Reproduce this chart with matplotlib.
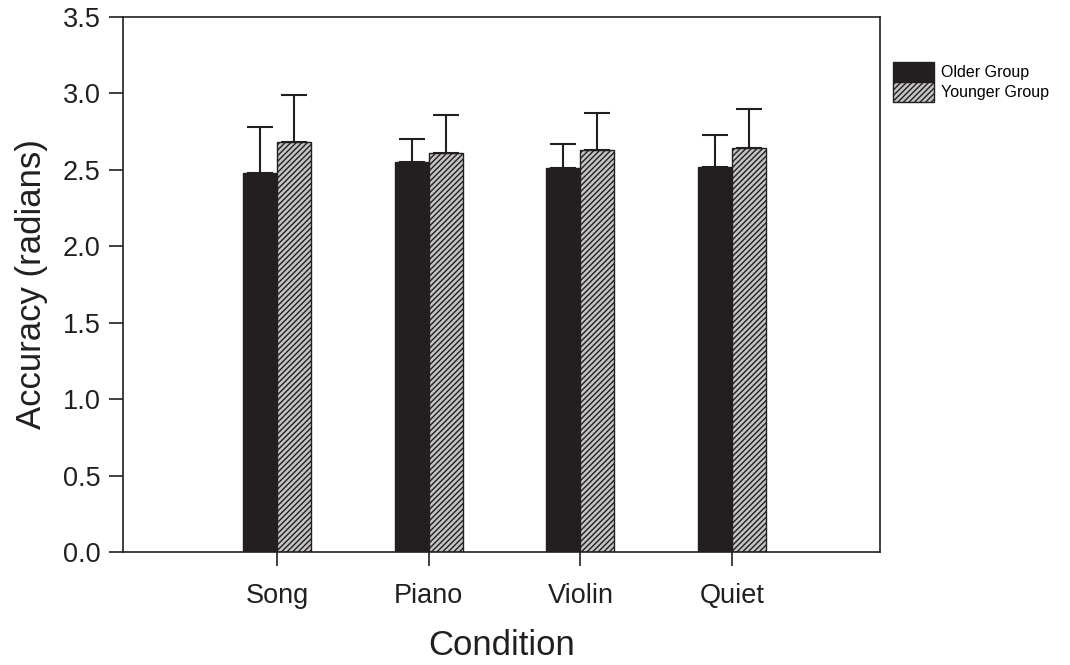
import matplotlib
matplotlib.use("Agg")
from matplotlib import pyplot as plt
import numpy as np

plt.rcParams['font.family'] = ['Liberation Sans', 'DejaVu Sans']
plt.rcParams['hatch.color'] = '#231f20'
plt.rcParams['hatch.linewidth'] = 1.0

conditions = ["Song", "Piano", "Violin", "Quiet"]
older_mean = [2.48, 2.55, 2.51, 2.52]
older_err = [0.30, 0.15, 0.16, 0.21]
younger_mean = [2.68, 2.61, 2.63, 2.645]
younger_err = [0.31, 0.25, 0.24, 0.25]

dark = '#231f20'
x = np.arange(1, len(conditions) + 1)
w = 0.224

fig = plt.figure(figsize=(10.7, 6.65), dpi=100)
ax = fig.add_axes([123/1070, 1 - 552/665, 757/1070, 535/665])

ax.bar(x, older_mean, width=-w, align='edge', color=dark, edgecolor=dark,
       linewidth=1, label='Older Group',
       yerr=[np.zeros(4), older_err],
       error_kw=dict(ecolor=dark, elinewidth=1.5, capsize=9.5, capthick=1.5))
ax.bar(x, younger_mean, width=w, align='edge', color='#c4c4c4', edgecolor=dark,
       linewidth=1, hatch='//////', label='Younger Group',
       yerr=[np.zeros(4), younger_err],
       error_kw=dict(ecolor=dark, elinewidth=1.5, capsize=9.5, capthick=1.5))

ax.set_xlim(-0.015, 4.975)
ax.set_ylim(0, 3.5)
ax.set_yticks(np.arange(0, 3.51, 0.5))
ax.set_yticklabels([f"{v:.1f}" for v in np.arange(0, 3.51, 0.5)])
ax.set_xticks(x)
ax.set_xticklabels(conditions)
ax.tick_params(axis='both', direction='out', length=10, width=1.2,
               labelsize=19.5, color=dark, labelcolor=dark, pad=6)
ax.tick_params(axis='x', pad=12)
for s in ax.spines.values():
    s.set_linewidth(1.2)
    s.set_color(dark)

ax.set_ylabel('Accuracy (radians)', fontsize=25, color=dark, labelpad=11)
ax.set_xlabel('Condition', fontsize=25, color=dark, labelpad=15)

leg = ax.legend(loc='upper left', bbox_to_anchor=(1.017, 0.916), frameon=False,
                fontsize=11.5, handlelength=2.56, handleheight=1.55,
                handletextpad=0.45, labelspacing=0.0, borderaxespad=0,
                borderpad=0)

fig.savefig('out.png', dpi=100)
